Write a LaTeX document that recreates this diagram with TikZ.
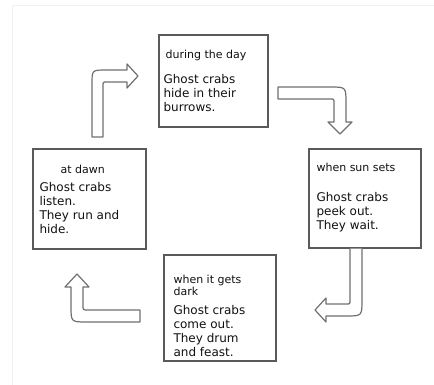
\documentclass[tikz,border=0pt]{standalone}
\usepackage{fontspec}
\setmainfont{DejaVu Sans}
\usetikzlibrary{positioning}

\definecolor{boxgray}{HTML}{5A5A5A}
\definecolor{arrgray}{HTML}{707070}
\definecolor{ink}{HTML}{111111}

\tikzset{
  box/.style={draw=boxgray, line width=1.3pt, fill=white, inner sep=0pt},
  head/.style={text=ink, inner sep=0pt, anchor=north west, font=\fontsize{11}{12}\selectfont, align=left},
  body/.style={text=ink, inner sep=0pt, anchor=north west, font=\fontsize{12}{13.8}\selectfont, align=left},
  bigarrow/.style={draw=arrgray, line width=1.2pt, fill=white, line join=round}
}

\begin{document}
\begin{tikzpicture}[x=1pt,y=-1pt]
\useasboundingbox (0,0) rectangle (434,385);
\draw[gray!12] (12,385)--(12,5)--(434,5);

% boxes
\node[box, minimum width=109pt, minimum height=92pt] (day) at (213.5,81) {};
\node[box, minimum width=112pt, minimum height=99pt] (sunset) at (365,198.5) {};
\node[box, minimum width=112pt, minimum height=106pt] (dark) at (220,308) {};
\node[box, minimum width=113pt, minimum height=100pt] (dawn) at (89.5,199) {};

% texts
\node[head] (dayhead) at ([shift={(7,16)}]day.north west) {during the day};
\node[body] (daybody) at ([shift={(5,40)}]day.north west) {Ghost crabs\\hide in their\\burrows.};
\node[head] (sunhead) at ([shift={(8,15)}]sunset.north west) {when sun sets};
\node[body] (sunbody) at ([shift={(8,44)}]sunset.north west) {Ghost crabs\\peek out.\\They wait.};
\node[head] (darkhead) at ([shift={(10,21)}]dark.north west) {when it gets\\dark};
\node[body] (darkbody) at ([shift={(10,51)}]dark.north west) {Ghost crabs\\come out.\\They drum\\and feast.};
\node[head] (dawnhead) at ([shift={(28,17)}]dawn.north west) {at dawn};
\node[body] (dawnbody) at ([shift={(7,34)}]dawn.north west) {Ghost crabs\\listen.\\They run and\\hide.};

% arrows
\draw[bigarrow] (92,137)--(92,84) .. controls (92,70) .. (106,70)--(127,70)--(127,64)--(138,76)
  --(127,88)--(127,82)--(107,82) .. controls (103,82) .. (103,86)--(103,137)--cycle;
\draw[bigarrow] (278,87)--(330,87) .. controls (346,87) .. (346,103)--(346,122)--(352,122)--(340,134)
  --(328,122)--(334,122)--(334,103) .. controls (334,99) .. (330,99)--(278,99)--cycle;
\draw[bigarrow] (sunset.south -| 362,0)--(362,300) .. controls (362,316) .. (346,316)--(326,316)--(326,322)--(315,310)
  --(326,298)--(326,304)--(346,304) .. controls (350,304) .. (350,300)--(sunset.south -| 350,0);
\draw[bigarrow] (140,310)--(88,310) .. controls (83,310) .. (83,305)--(83,287)--(89,287)--(77,274)
  --(65,287)--(71,287)--(71,306) .. controls (71,322) .. (87,322)--(140,322)--cycle;
\end{tikzpicture}
\end{document}
